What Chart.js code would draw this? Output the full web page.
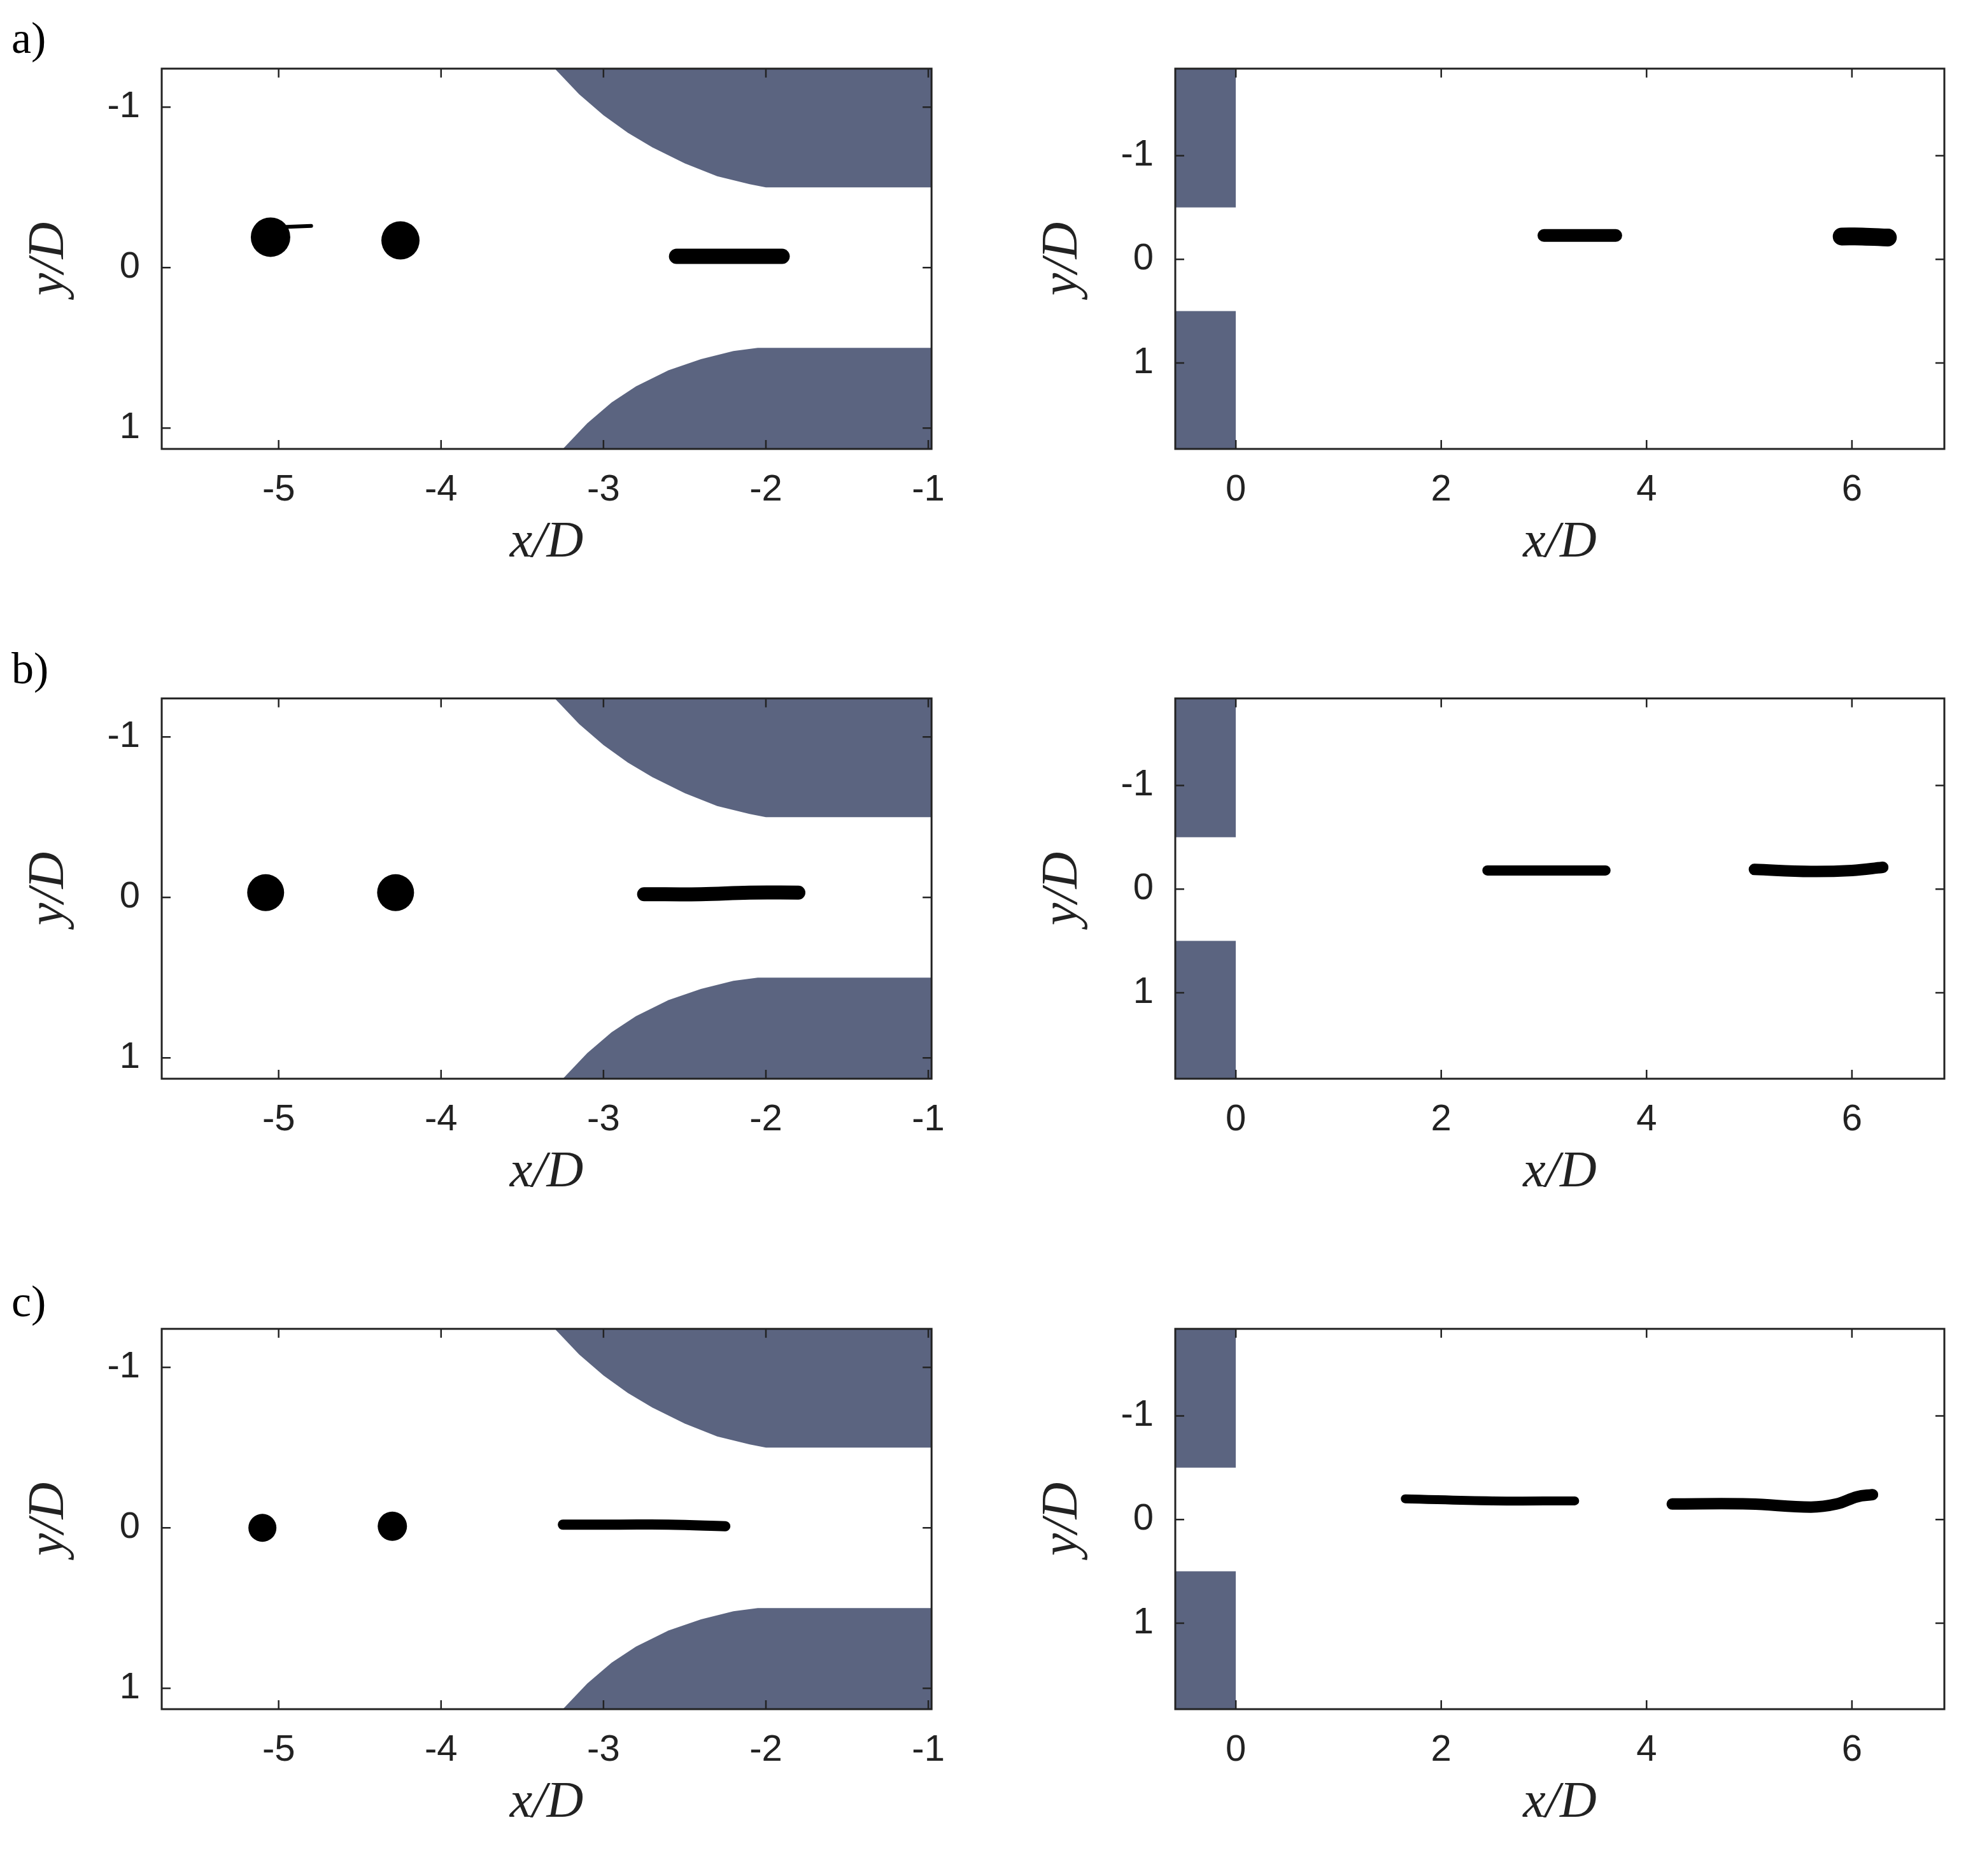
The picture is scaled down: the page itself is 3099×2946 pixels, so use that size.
<!DOCTYPE html>
<html>
<head>
<meta charset="utf-8">
<script src="https://cdn.jsdelivr.net/npm/chart.js@4.4.1/dist/chart.umd.min.js"></script>
<style>
  body { margin: 0; background: #fff; width: 3099px; height: 2946px; position: relative; overflow: hidden; }
  canvas { position: absolute; }
  .lbl { position: absolute; font-family: "Liberation Serif", serif; font-size: 70px; color: #000; }
</style>
</head>
<body>
<div class="lbl" style="left:18px;top:20px">a)</div>
<div class="lbl" style="left:18px;top:1010px">b)</div>
<div class="lbl" style="left:18px;top:2004px">c)</div>
<script>
// axis ranges and ticks
const leftRange = { xmin: -5.72, xmax: -0.98, ymin: -1.24, ymax: 1.13 };
const rightRange = { xmin: -0.59, xmax: 6.9, ymin: -1.84, ymax: 1.83 };
const leftXTicks = [-5, -4, -3, -2, -1];
const rightXTicks = [0, 2, 4, 6];
const yTicks = [-1, 0, 1];

// nozzle walls (grey), upstream side
const upperWallX = [-3.3, -3.15, -3.0, -2.85, -2.7, -2.5, -2.3, -2.1, -2.0, -0.9];
const upperWallY = [-1.24, -1.08, -0.95, -0.84, -0.75, -0.65, -0.57, -0.52, -0.5, -0.5];
const lowerWallX = [-3.25, -3.1, -2.95, -2.8, -2.6, -2.4, -2.2, -2.05, -0.9];
const lowerWallY = [1.13, 0.97, 0.84, 0.74, 0.64, 0.57, 0.52, 0.5, 0.5];
// nozzle walls downstream side
const rightWallX = [-0.7, 0];
const upperBlockY = [-0.5, -0.5];
const lowerBlockY = [0.5, 0.5];

// droplets: [x, y, radius px]
const dropsA = [[-5.05, -0.19, 31], [-4.25, -0.17, 30]];
const dropsB = [[-5.08, -0.03, 29], [-4.28, -0.03, 29]];
const dropsC = [[-5.1, 0.0, 22], [-4.3, -0.01, 23]];

// ligaments, upstream
const ligA_L = [{ x: [-5.05, -4.8], y: [-0.25, -0.26], w: 6 }, { x: [-2.55, -2.3, -2.05, -1.9], y: [-0.07, -0.07, -0.07, -0.07], w: 24 }];
const ligB_L = [{ x: [-2.75, -2.4, -2.1, -1.8], y: [-0.02, -0.02, -0.03, -0.03], w: 22 }];
const ligC_L = [{ x: [-3.25, -2.9, -2.6, -2.25], y: [-0.02, -0.02, -0.02, -0.01], w: 16 }];
// ligaments, downstream
const ligA_R = [{ x: [3.0, 3.35, 3.7], y: [-0.23, -0.23, -0.23], w: 20 },
                { x: [5.9, 6.1, 6.35], y: [-0.22, -0.22, -0.21], w: 28 }];
const ligB_R = [{ x: [2.45, 3.0, 3.6], y: [-0.18, -0.18, -0.18], w: 16 },
                { x: [5.05, 5.6, 6.0, 6.3], y: [-0.19, -0.17, -0.18, -0.21], w: 18 }];
const ligC_R = [{ x: [1.65, 2.5, 3.3], y: [-0.2, -0.18, -0.18], w: 14 },
                { x: [4.25, 5.0, 5.6, 5.85, 6.05, 6.2], y: [-0.15, -0.15, -0.12, -0.15, -0.22, -0.24], w: 18 }];

const GREY = "#5b6480";
const pts = (xs, ys) => xs.map((x, i) => ({ x, y: ys[i] }));

const boxPlugin = {
  id: "box",
  afterDraw(chart) {
    const { ctx, chartArea: a, scales } = chart;
    ctx.save();
    ctx.strokeStyle = "#222";
    ctx.lineWidth = 3;
    ctx.strokeRect(a.left, a.top, a.right - a.left, a.bottom - a.top);
    ctx.lineWidth = 2.5;
    scales.x.ticks.forEach(t => {
      const px = scales.x.getPixelForValue(t.value);
      ctx.beginPath(); ctx.moveTo(px, a.bottom); ctx.lineTo(px, a.bottom - 14);
      ctx.moveTo(px, a.top); ctx.lineTo(px, a.top + 14); ctx.stroke();
    });
    scales.y.ticks.forEach(t => {
      const py = scales.y.getPixelForValue(t.value);
      ctx.beginPath(); ctx.moveTo(a.left, py); ctx.lineTo(a.left + 14, py);
      ctx.moveTo(a.right, py); ctx.lineTo(a.right - 14, py); ctx.stroke();
    });
    ctx.restore();
  }
};

function makePanel(left, width, top, range, xTicks, walls, drops, ligs) {
  const c = document.createElement("canvas");
  c.width = width; c.height = 598 + 60 + 200;
  c.style.left = left + "px"; c.style.top = (top - 60) + "px";
  c.style.width = c.width + "px"; c.style.height = c.height + "px";
  document.body.appendChild(c);

  const datasets = [];
  walls.forEach(w => datasets.push({
    data: pts(w.x, w.y), showLine: true, borderWidth: 0, pointRadius: 0,
    backgroundColor: GREY, borderColor: GREY, fill: { value: w.fillTo }
  }));
  ligs.forEach(l => datasets.push({
    data: pts(l.x, l.y), showLine: true, borderWidth: l.w, borderColor: "#000",
    borderCapStyle: "round", borderJoinStyle: "round", pointRadius: 0, tension: 0.4, fill: false
  }));
  datasets.push({
    data: drops.map(d => ({ x: d[0], y: d[1] })), showLine: false,
    pointRadius: drops.map(d => d[2]), backgroundColor: "#000", borderWidth: 0
  });

  const tickFont = { family: "Liberation Sans, Arial", size: 58 };
  const titleFont = { family: "Liberation Serif", size: 80, style: "italic" };
  new Chart(c, {
    type: "scatter",
    data: { datasets },
    options: {
      responsive: false, animation: false, events: [],
      layout: { padding: { top: 20, right: 20, left: 0, bottom: 0 } },
      plugins: { legend: { display: false }, tooltip: { enabled: false } },
      scales: {
        x: {
          type: "linear", min: range.xmin, max: range.xmax,
          afterBuildTicks: s => { s.ticks = xTicks.map(v => ({ value: v })); },
          afterFit: s => { s.height = 200; },
          grid: { display: false }, border: { display: false },
          ticks: { font: tickFont, color: "#222", padding: 22, maxRotation: 0 },
          title: { display: true, text: "x/D", font: titleFont, color: "#222", padding: { top: 0 } }
        },
        y: {
          type: "linear", reverse: true, min: range.ymin, max: range.ymax,
          afterBuildTicks: s => { s.ticks = yTicks.map(v => ({ value: v })); },
          afterFit: s => { s.width = 254; },
          grid: { display: false }, border: { display: false },
          ticks: { font: tickFont, color: "#222", padding: 26 },
          title: { display: true, text: "y/D", font: titleFont, color: "#222", padding: { top: 30, bottom: 10 } }
        }
      }
    },
    plugins: [boxPlugin]
  });
}

const leftWalls = [
  { x: upperWallX, y: upperWallY, fillTo: -1.5 },
  { x: lowerWallX, y: lowerWallY, fillTo: 1.5 }
];
const rightWalls = [
  { x: rightWallX, y: upperBlockY, fillTo: -2.0 },
  { x: rightWallX, y: lowerBlockY, fillTo: 2.0 }
];
const rowTops = [107, 1096, 2086];
makePanel(0, 1506, rowTops[0], leftRange, leftXTicks, leftWalls, dropsA, ligA_L);
makePanel(1592, 1482, rowTops[0], rightRange, rightXTicks, rightWalls, [], ligA_R);
makePanel(0, 1506, rowTops[1], leftRange, leftXTicks, leftWalls, dropsB, ligB_L);
makePanel(1592, 1482, rowTops[1], rightRange, rightXTicks, rightWalls, [], ligB_R);
makePanel(0, 1506, rowTops[2], leftRange, leftXTicks, leftWalls, dropsC, ligC_L);
makePanel(1592, 1482, rowTops[2], rightRange, rightXTicks, rightWalls, [], ligC_R);
</script>
</body>
</html>
